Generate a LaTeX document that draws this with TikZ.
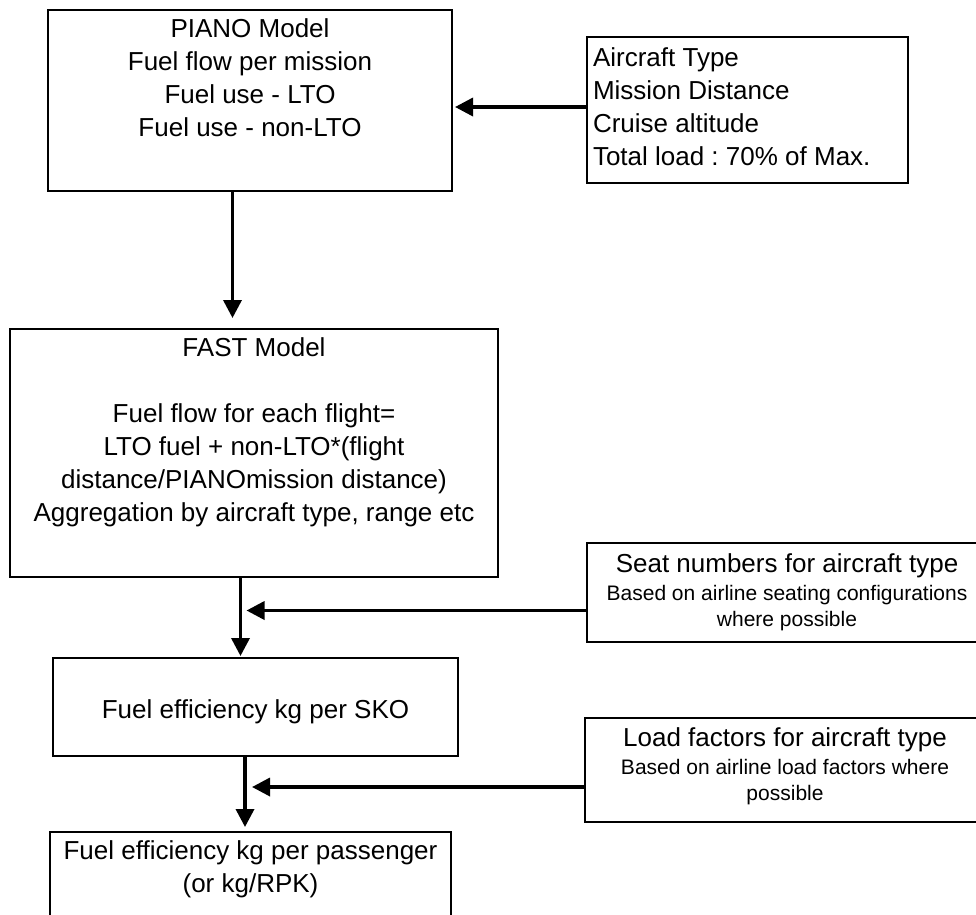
\documentclass[tikz,border=0pt]{standalone}
\usepackage{fontspec}
\setmainfont{Liberation Sans}
\usetikzlibrary{arrows.meta}
\tikzset{
  block/.style={draw, line width=2pt, inner xsep=0pt, inner ysep=4pt, font=\fontsize{26}{33}\selectfont},
  flow/.style={line width=3.5pt, -{Triangle[length=18pt,width=18pt]}}
}
\newcommand{\smalltext}{\fontsize{21}{26}\selectfont}
\frenchspacing

\begin{document}
\begin{tikzpicture}[x=1pt,y=-1pt]
\clip (0,0) rectangle (976,914);
% models on the left
\node[block] (piano) at (250,100.5) {\parbox[c][173pt][t]{404pt}{\centering\strut PIANO Model\\Fuel flow per mission\\Fuel use - LTO\\Fuel use - non-LTO}};
\node[block] (fast) at (254,453) {\parbox[c][240pt][t]{488pt}{\centering\strut FAST Model\\[33pt]Fuel flow for each flight=\\LTO fuel + non-LTO*(flight\\distance/PIANOmission distance)\\Aggregation by aircraft type, range etc}};
\node[block, inner ysep=0pt, minimum width=405pt, minimum height=98pt, text height=23pt, text depth=0pt] (sko) at (255.5,707) {Fuel efficiency kg per SKO};
\node[block] (pass) at (250.5,892) {\parbox[c][112pt][t]{401pt}{\centering\strut Fuel efficiency kg per passenger\\(or kg/RPK)}};
% inputs on the right
\node[block, inner xsep=6pt, inner ysep=6.2pt] (input) at (747.5,110) {\parbox[c][133.6pt][t]{309pt}{\raggedright\strut Aircraft Type\\Mission Distance\\Cruise altitude\\Total load : 70\% of Max.}};
\node[block, inner ysep=6.2pt] (seat) at (787,592.5) {\parbox[c][86.6pt][t]{400pt}{\centering\strut Seat numbers for aircraft type\\[2pt]\smalltext Based on airline seating configurations\\where possible}};
\node[block, inner ysep=5.2pt] (load) at (785,770) {\parbox[c][93.6pt][t]{400pt}{\centering\strut Load factors for aircraft type\\[2pt]\smalltext Based on airline load factors where\\possible}};
% connectors
\coordinate (j0) at ([xshift=-17.5pt]piano.south);
\coordinate (j1) at ([xshift=-13.5pt]fast.south);
\coordinate (j2) at ([xshift=-10.5pt]sko.south);
\draw[flow, shorten >=10pt] (j0) -- (j0 |- fast.north);
\draw[flow, shorten >=2pt] ([yshift=3pt]input.west) -- ([yshift=3pt]input.west -| piano.east);
\draw[flow, shorten >=1pt] (j1) -- (j1 |- sko.north);
\draw[flow, shorten >=6pt] ([yshift=-18pt]seat.west) -- ([yshift=-18pt]seat.west -| j1);
\draw[flow, shorten >=4pt] (j2) -- (j2 |- pass.north);
\draw[flow, shorten >=7pt] ([yshift=-17pt]load.west) -- ([yshift=-17pt]load.west -| j2);
\end{tikzpicture}
\end{document}
